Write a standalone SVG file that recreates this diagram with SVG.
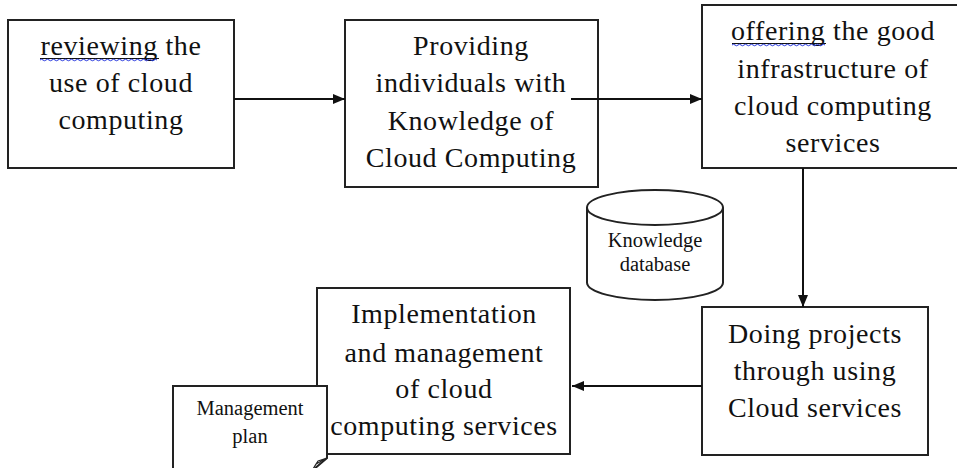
<svg xmlns="http://www.w3.org/2000/svg" width="957" height="468" viewBox="0 0 957 468">
<style>
.box{fill:#fff;stroke:#222;stroke-width:2}
.t{font-family:"Liberation Serif",serif;font-size:28px;fill:#111;text-anchor:middle;letter-spacing:0.6px}
.s{font-family:"Liberation Serif",serif;font-size:20.5px;fill:#111;text-anchor:middle}
.c{stroke:#111;stroke-width:2;fill:none}
.sp{stroke:#2233dd;stroke-width:1;fill:none}
</style>
<defs>
<marker id="ah" viewBox="0 0 12 10" refX="12" refY="5" markerWidth="12" markerHeight="10" markerUnits="userSpaceOnUse" orient="auto">
<path d="M0,0 L12,5 L0,10 Z" fill="#111"/>
</marker>
</defs>
<rect width="957" height="468" fill="#fff"/>
<g id="n1">
<rect class="box" x="8" y="20" width="226" height="148"/>
<text class="t" x="121" y="55">reviewing the</text>
<line x1="40" y1="58.5" x2="159" y2="58.5" stroke="#111" stroke-width="1"/>
<path class="sp" d="M40,60 q1.5,-1.5 3,0 t3,0 t3,0 t3,0 t3,0 t3,0 t3,0 t3,0 t3,0 t3,0 t3,0 t3,0 t3,0 t3,0 t3,0 t3,0 t3,0 t3,0 t3,0 t3,0 t3,0 t3,0 t3,0 t3,0 t3,0 t3,0 t3,0 t3,0 t3,0 t3,0 t3,0 t3,0 t3,0 t3,0 t3,0 t3,0 t3,0 t3,0 t3,0"/>
<text class="t" x="121" y="92">use of cloud</text>
<text class="t" x="121" y="129">computing</text>
</g>
<g id="n2">
<rect class="box" x="345" y="20" width="253" height="167"/>
<text class="t" x="471" y="55">Providing</text>
<text class="t" x="471" y="92">individuals with</text>
<text class="t" x="471" y="130">Knowledge of</text>
<text class="t" x="471" y="167">Cloud Computing</text>
</g>
<g id="n3">
<rect class="box" x="702" y="5" width="262" height="163"/>
<text class="t" x="833" y="40">offering the good</text>
<line x1="732" y1="43.5" x2="826" y2="43.5" stroke="#111" stroke-width="1"/>
<path class="sp" d="M732,45 q1.5,-1.5 3,0 t3,0 t3,0 t3,0 t3,0 t3,0 t3,0 t3,0 t3,0 t3,0 t3,0 t3,0 t3,0 t3,0 t3,0 t3,0 t3,0 t3,0 t3,0 t3,0 t3,0 t3,0 t3,0 t3,0 t3,0 t3,0 t3,0 t3,0 t3,0 t3,0 t3,0"/>
<text class="t" x="833" y="78">infrastructure of</text>
<text class="t" x="833" y="115">cloud computing</text>
<text class="t" x="833" y="152">services</text>
</g>
<g id="db">
<path class="box" d="M587,207.5 L587,282.5 A68,17.5 0 0 0 723,282.5 L723,207.5"/>
<ellipse class="box" cx="655" cy="207.5" rx="68" ry="17.5"/>
<text class="s" x="655" y="247">Knowledge</text>
<text class="s" x="655" y="271">database</text>
</g>
<g id="n4">
<rect class="box" x="702" y="307" width="226" height="148"/>
<text class="t" x="815" y="343">Doing projects</text>
<text class="t" x="815" y="380">through using</text>
<text class="t" x="815" y="417">Cloud services</text>
</g>
<g id="n5">
<rect class="box" x="317" y="288" width="253" height="166"/>
<text class="t" x="444" y="323">Implementation</text>
<text class="t" x="444" y="362">and management</text>
<text class="t" x="444" y="398">of cloud</text>
<text class="t" x="444" y="435">computing services</text>
</g>
<g id="doc">
<path class="box" d="M173,470 L173,386 L327,386 L327,458 L313,470"/>
<path d="M327,458 L318,461 L313,469 L316,464 Z" fill="#fff" stroke="#222" stroke-width="1.2" stroke-linejoin="round"/>
<text class="s" x="250" y="415">Management</text>
<text class="s" x="250" y="443">plan</text>
</g>
<g id="connectors">
<line class="c" x1="234" y1="99" x2="345" y2="99" marker-end="url(#ah)"/>
<line class="c" x1="571" y1="99" x2="702" y2="99" marker-end="url(#ah)"/>
<line class="c" x1="803" y1="168" x2="803" y2="307" marker-end="url(#ah)"/>
<line class="c" x1="702" y1="386" x2="572" y2="386" marker-end="url(#ah)"/>
</g>
</svg>
